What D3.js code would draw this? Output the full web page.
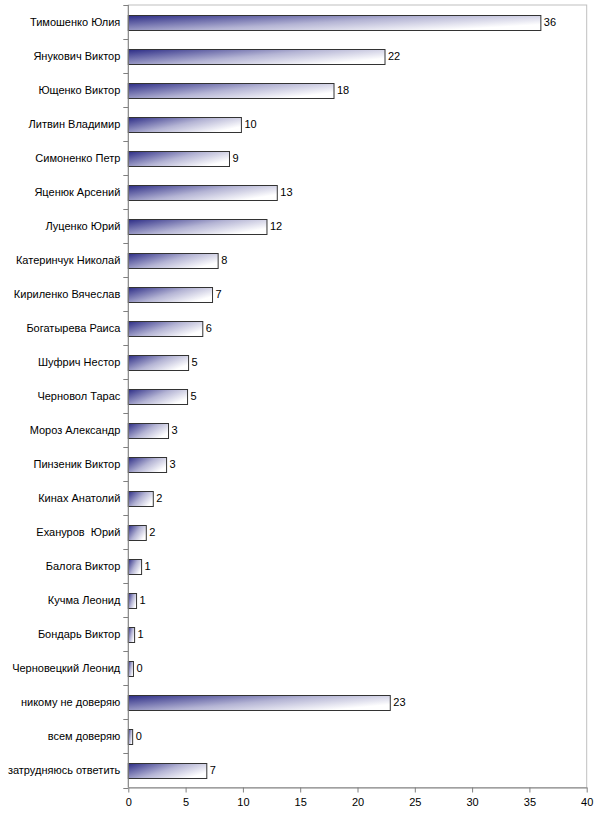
<!DOCTYPE html>
<html><head><meta charset="utf-8">
<script src="https://cdn.jsdelivr.net/npm/d3@7"></script>
<style>
body{margin:0;background:#fff;}
text{font-family:"Liberation Sans",Arial,sans-serif;font-size:11px;fill:#000;}
</style></head>
<body>
<svg id="c" width="600" height="819"></svg>
<script>
const categories = ["Тимошенко Юлия","Янукович Виктор","Ющенко Виктор","Литвин Владимир","Симоненко Петр","Яценюк Арсений","Луценко Юрий","Катеринчук Николай","Кириленко Вячеслав","Богатырева Раиса","Шуфрич Нестор","Черновол Тарас","Мороз Александр","Пинзеник Виктор","Кинах Анатолий","Ехануров  Юрий","Балога Виктор","Кучма Леонид","Бондарь Виктор","Черновецкий Леонид","никому не доверяю","всем доверяю","затрудняюсь ответить"];
const values = [36.0,22.4,17.95,9.87,8.83,13.0,12.1,7.84,7.35,6.5,5.26,5.17,3.51,3.34,2.18,1.57,1.16,0.72,0.55,0.45,22.86,0.38,6.85];
const labels = ["36","22","18","10","9","13","12","8","7","6","5","5","3","3","2","2","1","1","1","0","23","0","7"];
const xTicks = [0,5,10,15,20,25,30,35,40];

const svg = d3.select("#c");
const L = 128.3, R = 586.7, T = 5, B = 787.5;
const x = d3.scaleLinear().domain([0,40]).range([L,R]);
const y = d3.scaleBand().domain(categories).range([T,B]).paddingInner(0.56).paddingOuter(0.28);
const yb = d3.scaleBand().domain(categories).range([T,B]);

const defs = svg.append("defs");
const g = defs.append("linearGradient").attr("id","gr").attr("x1","0").attr("y1","0").attr("x2","1").attr("y2","0.6");
g.append("stop").attr("offset","0").attr("stop-color","#2c2c86");
g.append("stop").attr("offset","0.55").attr("stop-color","#b4b4d4");
g.append("stop").attr("offset","1").attr("stop-color","#ffffff");

// plot border
svg.append("rect").attr("x",L).attr("y",T).attr("width",R-L).attr("height",B-T)
  .attr("fill","#fff").attr("stroke","#c0c0c0").attr("stroke-width",1);

// bars
svg.selectAll("rect.bar").data(values).enter().append("rect").attr("class","bar")
  .attr("x",x(0)).attr("y",(d,i)=>Math.round(y(categories[i]))+0.5)
  .attr("width",d=>x(d)-x(0)).attr("height",Math.round(y.bandwidth()))
  .attr("fill","url(#gr)").attr("stroke","#333").attr("stroke-width",1);

// value labels
svg.selectAll("text.val").data(values).enter().append("text").attr("class","val")
  .attr("x",d=>x(d)+3).attr("y",(d,i)=>y(categories[i])+y.bandwidth()/2).attr("dy","0.35em")
  .text((d,i)=>labels[i]);

// y axis
const ya = svg.append("g").attr("transform",`translate(${L},0)`);
ya.append("line").attr("x1",0).attr("x2",0).attr("y1",T).attr("y2",B).attr("stroke","#808080");
ya.selectAll("line.t").data(categories.concat([null])).enter().append("line").attr("class","t")
  .attr("x1",-5).attr("x2",0)
  .attr("y1",(d,i)=>Math.round(T+i*yb.step())+0.5).attr("y2",(d,i)=>Math.round(T+i*yb.step())+0.5)
  .attr("stroke","#808080");
ya.selectAll("text").data(categories).enter().append("text")
  .attr("x",-8).attr("y",d=>yb(d)+yb.bandwidth()/2).attr("dy","0.35em")
  .attr("text-anchor","end").style("white-space","pre").text(d=>d);

// x axis
const xa = svg.append("g").attr("transform",`translate(0,${B})`)
  .call(d3.axisBottom(x).tickValues(xTicks).tickSize(5).tickSizeOuter(0).tickPadding(6).tickFormat(d3.format("d")));
xa.select(".domain").attr("stroke","#808080");
xa.selectAll(".tick line").attr("stroke","#808080");
xa.selectAll("text").style("font-family","Liberation Sans, Arial, sans-serif").style("font-size","11px").attr("fill","#000");
</script>
</body></html>
